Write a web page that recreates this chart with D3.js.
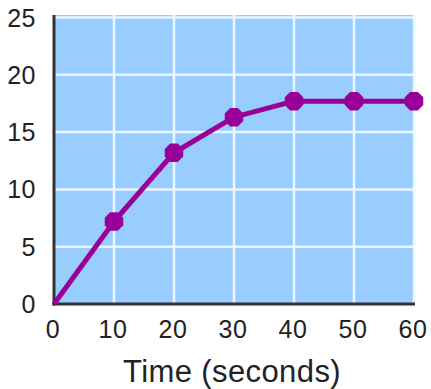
<!DOCTYPE html>
<html>
<head>
<meta charset="utf-8">
<script src="https://cdn.jsdelivr.net/npm/d3@7"></script>
<style>
  html, body { margin: 0; padding: 0; background: #fff; }
  svg { display: block; }
  text { font-family: "Liberation Sans", Arial, sans-serif; fill: #222; }
</style>
</head>
<body>
<svg id="chart" width="431" height="389"></svg>
<script>
// Data
const times = [0, 10, 20, 30, 40, 50, 60];
const values = [0, 7.2, 13.2, 16.3, 17.7, 17.7, 17.7];
const xTicks = [0, 10, 20, 30, 40, 50, 60];
const yTicks = [0, 5, 10, 15, 20, 25];
const xTitle = "Time (seconds)";

const svg = d3.select("#chart");
const x = d3.scaleLinear().domain([0, 60]).range([54, 414]);
const y = d3.scaleLinear().domain([0, 25]).range([304, 17.5]);

// plot background
svg.append("rect")
  .attr("x", x(0)).attr("y", 15)
  .attr("width", 415 - x(0)).attr("height", y(0) - 15)
  .attr("fill", "#99ccff");

// grid lines
svg.append("g").selectAll("line").data(xTicks.slice(1)).join("line")
  .attr("x1", d => x(d)).attr("x2", d => x(d))
  .attr("y1", 15).attr("y2", y(0))
  .attr("stroke", "#eaf5ff").attr("stroke-width", 2.5);
svg.append("g").selectAll("line").data(yTicks.slice(1)).join("line")
  .attr("x1", x(0)).attr("x2", 415)
  .attr("y1", d => y(d)).attr("y2", d => y(d))
  .attr("stroke", "#eaf5ff").attr("stroke-width", 2.5);

// axes lines
svg.append("line").attr("x1", x(0)).attr("x2", x(0)).attr("y1", 15).attr("y2", y(0) + 1.5)
  .attr("stroke", "#333").attr("stroke-width", 3);
svg.append("line").attr("x1", x(0) - 1.5).attr("x2", 415).attr("y1", y(0)).attr("y2", y(0))
  .attr("stroke", "#333").attr("stroke-width", 3);

// tick labels
svg.append("g").selectAll("text").data(xTicks).join("text")
  .attr("x", d => x(d) - 1).attr("y", 338)
  .attr("text-anchor", "middle")
  .attr("font-size", 25)
  .attr("letter-spacing", 0.5)
  .text(d => d);
svg.append("g").selectAll("text").data(yTicks).join("text")
  .attr("x", 36).attr("y", d => y(d) + 9)
  .attr("text-anchor", "end")
  .attr("font-size", 25)
  .attr("letter-spacing", 0.5)
  .text(d => d);

// title
svg.append("text")
  .attr("x", 232).attr("y", 382)
  .attr("text-anchor", "middle")
  .attr("font-size", 31)
  .attr("letter-spacing", 0.4)
  .text(xTitle);

// line
const data = times.map((t, i) => ({t, v: values[i]}));
const line = d3.line().x(d => x(d.t)).y(d => y(d.v)).curve(d3.curveLinear);
svg.append("path").datum(data)
  .attr("d", line)
  .attr("fill", "none")
  .attr("stroke", "#990099")
  .attr("stroke-width", 5)
  .attr("stroke-linejoin", "round");

// octagon markers
const r = 10;
const oct = d3.range(8).map(k => {
  const a = Math.PI / 8 + k * Math.PI / 4;
  return [r * Math.cos(a), r * Math.sin(a)];
});
const octPath = "M" + oct.map(p => p.join(",")).join("L") + "Z";
svg.append("g").selectAll("path").data(data.slice(1)).join("path")
  .attr("transform", d => `translate(${x(d.t)},${y(d.v)})`)
  .attr("d", octPath)
  .attr("fill", "#990099");
</script>
</body>
</html>
